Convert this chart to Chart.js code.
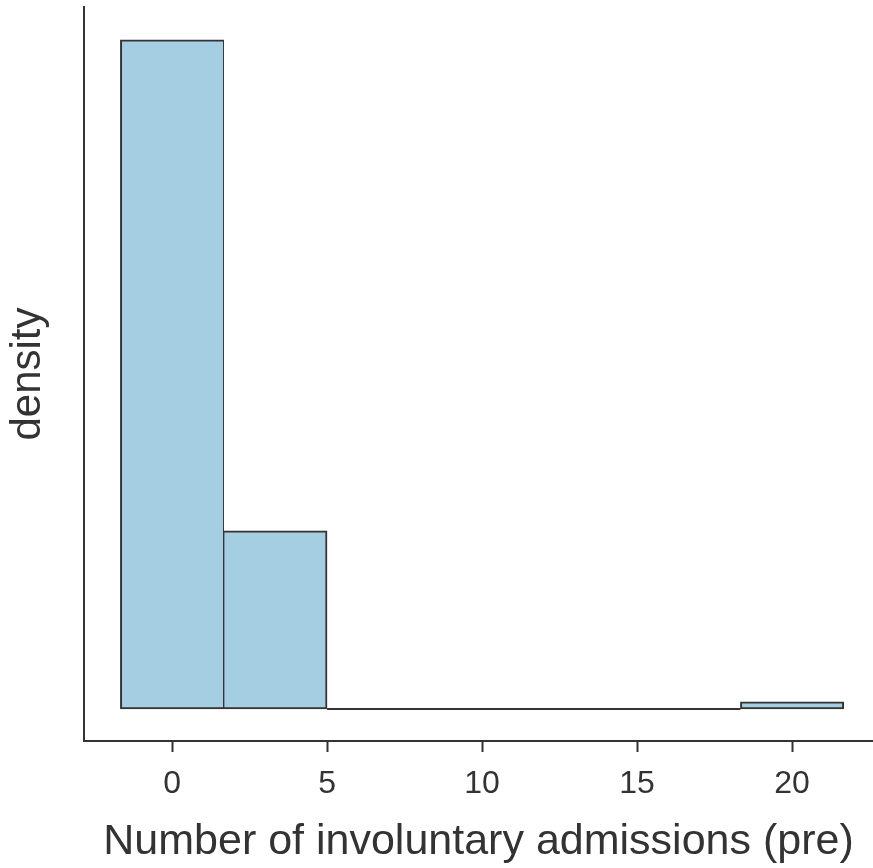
<!DOCTYPE html>
<html>
<head>
<meta charset="utf-8">
<script src="https://cdn.jsdelivr.net/npm/chart.js@4.4.1/dist/chart.umd.min.js"></script>
<style>
html,body{margin:0;padding:0;background:#fff;}
#wrap{width:873px;height:868px;}
</style>
</head>
<body>
<div id="wrap"><canvas id="c" width="873" height="868"></canvas></div>
<script>
// Histogram bins (centers) and counts
const binCenters = [0, 3.3333, 6.6667, 10, 13.3333, 16.6667, 20];
const binCounts  = [94, 25, 0, 0, 0, 0, 1];
const binWidth = 3.3333;
const xTicks = [0, 5, 10, 15, 20];
const xMin = -2.84, xMax = 22.61;
const xTitle = 'Number of involuntary admissions (pre)';
const yTitle = 'density';

const total = binCounts.reduce((a, b) => a + b, 0);
const densities = binCounts.map(c => c / (total * binWidth));
const dMax = Math.max(...densities);
const yMin = -0.048 * dMax, yMax = 1.049 * dMax;

const barData = binCenters.map((x, i) => ({x: x, y: densities[i]}));
// empty bins drawn as a flat line along the baseline
const emptyIdx = binCounts.map((c, i) => c === 0 ? i : -1).filter(i => i >= 0);
const emptyLine = [
  {x: binCenters[emptyIdx[0]] - binWidth / 2, y: 0},
  {x: binCenters[emptyIdx[emptyIdx.length - 1]] + binWidth / 2, y: 0}
];

const ink = '#333333';
const fam = '"Liberation Sans", Arial, sans-serif';

function barBorder(ctx) {
  const i = ctx.dataIndex;
  const prev = i > 0 && binCounts[i - 1] > 0;
  const next = i < binCounts.length - 1 && binCounts[i + 1] > 0;
  return {top: 2, bottom: 2, left: prev ? 1 : 2, right: next ? 1 : 2};
}

new Chart(document.getElementById('c'), {
  data: {
    datasets: [
      {
        type: 'bar',
        data: barData,
        backgroundColor: '#a6cee3',
        borderColor: ink,
        borderWidth: barBorder,
        borderSkipped: false,
        barPercentage: 1,
        categoryPercentage: 1
      },
      {
        type: 'line',
        data: emptyLine,
        borderColor: ink,
        borderWidth: 2,
        pointRadius: 0,
        fill: false
      }
    ]
  },
  options: {
    responsive: false,
    animation: false,
    devicePixelRatio: 1,
    layout: {padding: {top: 7, left: 0, right: 0, bottom: 0}},
    plugins: {legend: {display: false}, tooltip: {enabled: false}},
    scales: {
      x: {
        type: 'linear',
        offset: false,
        min: xMin, max: xMax,
        afterBuildTicks: s => { s.ticks = xTicks.map(v => ({value: v})); },
        afterFit: s => { s.height = 127; },
        grid: {offset: false, drawOnChartArea: false, drawTicks: true, tickLength: 11, tickColor: ink, tickWidth: 2},
        border: {display: true, color: ink, width: 2},
        ticks: {color: ink, font: {family: fam, size: 32}, padding: 13, maxRotation: 0},
        title: {display: true, text: xTitle, color: ink, font: {family: fam, size: 43}, padding: 0}
      },
      y: {
        type: 'linear',
        min: yMin, max: yMax,
        afterFit: s => { s.width = 84; },
        grid: {display: false, drawTicks: false},
        border: {display: true, color: ink, width: 2},
        ticks: {display: false},
        title: {display: true, text: yTitle, color: ink, font: {family: fam, size: 42}, padding: {top: 3, bottom: 0}}
      }
    }
  }
});
</script>
</body>
</html>
